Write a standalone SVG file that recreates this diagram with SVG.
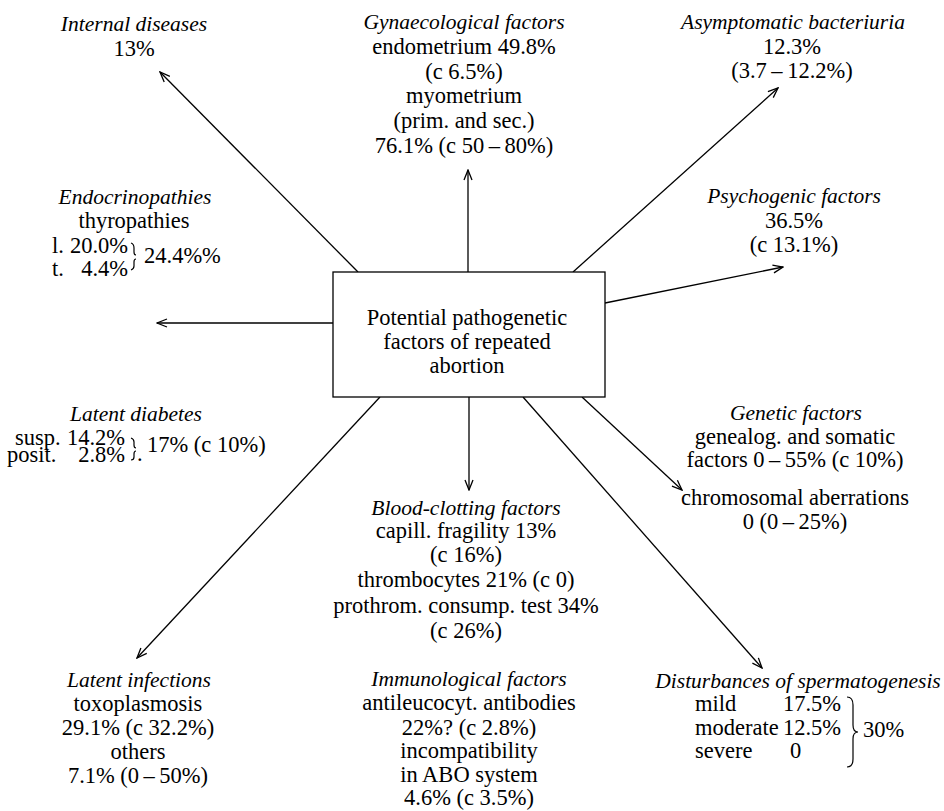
<svg xmlns="http://www.w3.org/2000/svg" width="944" height="811" viewBox="0 0 944 811">
<defs>
<marker id="ah" viewBox="0 0 12 10" refX="11" refY="5" markerWidth="12" markerHeight="10" orient="auto" markerUnits="userSpaceOnUse">
<path d="M1,1 L11,5 L1,9" fill="none" stroke="#000" stroke-width="1.3"/>
</marker>
</defs>
<style>
text{font-family:"Liberation Serif","DejaVu Serif","Times New Roman",Times,serif;font-size:22.5px;fill:#000}
.c{text-anchor:middle}
.e{text-anchor:end}
.i{font-style:italic;font-size:21.5px}
.ln{stroke:#000;stroke-width:1.3;fill:none;marker-end:url(#ah)}
.br{stroke:#000;stroke-width:1.2;fill:none}
</style>
<rect width="944" height="811" fill="#fff"/>
<g id="connectors">
<path class="ln" d="M358,272 L160,72"/>
<path class="ln" d="M468,272 L468,170"/>
<path class="ln" d="M573,272 L778,88"/>
<path class="ln" d="M605,303 L783,267"/>
<path class="ln" d="M333,323 L157,323"/>
<path class="ln" d="M380,397 L137,658"/>
<path class="ln" d="M469,397 L469,490"/>
<path class="ln" d="M582,397 L682,490"/>
<path class="ln" d="M523,397 L762,668"/>
</g>
<g id="center">
<rect x="333" y="272" width="272" height="125" fill="#fff" stroke="#000" stroke-width="1.3"/>
<text class="c" x="467" y="325">Potential pathogenetic</text>
<text class="c" x="467" y="349">factors of repeated</text>
<text class="c" x="467" y="373">abortion</text>
</g>
<g id="internal">
<text class="c i" x="134" y="31">Internal diseases</text>
<text class="c" x="134" y="56">13%</text>
</g>
<g id="gynaecological">
<text class="c i" x="464" y="29">Gynaecological factors</text>
<text class="c" x="464" y="54">endometrium 49.8%</text>
<text class="c" x="464" y="79">(c 6.5%)</text>
<text class="c" x="464" y="103">myometrium</text>
<text class="c" x="464" y="128">(prim. and sec.)</text>
<text class="c" x="464" y="153">76.1%  (c 50&#8201;–&#8201;80%)</text>
</g>
<g id="bacteriuria">
<text class="c i" x="793" y="29">Asymptomatic bacteriuria</text>
<text class="c" x="792" y="54">12.3%</text>
<text class="c" x="792" y="78">(3.7&#8201;–&#8201;12.2%)</text>
</g>
<g id="psychogenic">
<text class="c i" x="794" y="203">Psychogenic factors</text>
<text class="c" x="794" y="228">36.5%</text>
<text class="c" x="794" y="252">(c 13.1%)</text>
</g>
<g id="endocrinopathies">
<text class="c i" x="135" y="204">Endocrinopathies</text>
<text class="c" x="134" y="228">thyropathies</text>
<text x="52" y="253">l.</text>
<text class="e" x="128" y="253">20.0%</text>
<text x="52" y="276">t.</text>
<text class="e" x="128" y="276">4.4%</text>
<path class="br" d="M131,243 q3,1 3,5 v4 q0,3 2,3 M136,259 q-2,0 -2,3 v4 q0,3 -3,4"/>
<text x="144" y="263">24.4%%</text>
</g>
<g id="diabetes">
<text class="c i" x="136" y="421">Latent diabetes</text>
<text x="15" y="445">susp.</text>
<text class="e" x="125" y="445">14.2%</text>
<text x="7" y="462">posit.</text>
<text class="e" x="125" y="462">2.8%</text>
<path class="br" d="M131,438 q3,1 3,4 v3 q0,3 2,3 M136,451 q-2,0 -2,3 v3 q0,3 -3,3"/>
<text x="137" y="461">.</text>
<text x="147" y="452">17%  (c 10%)</text>
</g>
<g id="infections">
<text class="c i" x="139" y="687">Latent infections</text>
<text class="c" x="138" y="711">toxoplasmosis</text>
<text class="c" x="138" y="735">29.1% (c 32.2%)</text>
<text class="c" x="138" y="759">others</text>
<text class="c" x="138" y="783">7.1% (0&#8201;–&#8201;50%)</text>
</g>
<g id="blood">
<text class="c i" x="466" y="515">Blood-clotting factors</text>
<text class="c" x="466" y="538">capill. fragility 13%</text>
<text class="c" x="466" y="562">(c 16%)</text>
<text class="c" x="466" y="587">thrombocytes 21%  (c 0)</text>
<text class="c" x="466" y="613">prothrom. consump. test 34%</text>
<text class="c" x="466" y="638">(c 26%)</text>
</g>
<g id="immunological">
<text class="c i" x="469" y="686">Immunological factors</text>
<text class="c" x="469" y="710">antileucocyt. antibodies</text>
<text class="c" x="469" y="735">22%?  (c 2.8%)</text>
<text class="c" x="469" y="758">incompatibility</text>
<text class="c" x="469" y="782">in ABO system</text>
<text class="c" x="469" y="805">4.6%  (c 3.5%)</text>
</g>
<g id="genetic">
<text class="c i" x="796" y="420">Genetic factors</text>
<text class="c" x="795" y="444">genealog. and somatic</text>
<text class="c" x="795" y="467">factors 0&#8201;–&#8201;55%  (c 10%)</text>
<text class="c" x="795" y="505">chromosomal aberrations</text>
<text class="c" x="795" y="529">0  (0&#8201;–&#8201;25%)</text>
</g>
<g id="spermatogenesis">
<text class="c i" x="798" y="688">Disturbances of spermatogenesis</text>
<text x="695" y="711">mild</text>
<text class="e" x="841" y="711">17.5%</text>
<text x="695" y="735">moderate</text>
<text class="e" x="841" y="735">12.5%</text>
<text x="695" y="758">severe</text>
<text x="790" y="758">0</text>
<path class="br" d="M847,697 q6,0 6,8 v20 q0,7 5,7 q-5,0 -5,7 v20 q0,8 -6,8" stroke-width="1.5"/>
<text x="863" y="737">30%</text>
</g>
</svg>
